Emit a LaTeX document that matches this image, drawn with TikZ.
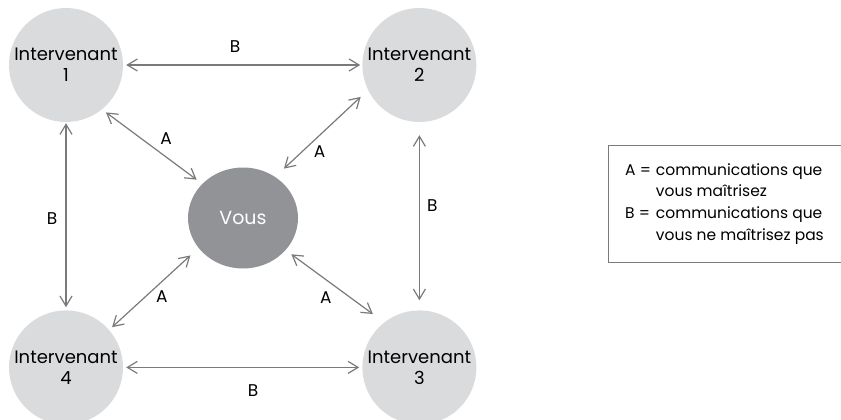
\documentclass[tikz,border=0pt]{standalone}
\usepackage{fontspec}
\setmainfont{Poppins}
\usetikzlibrary{arrows.meta,positioning,shapes}
\definecolor{palegray}{RGB}{218,219,221}
\definecolor{darkgray}{RGB}{146,147,151}
\definecolor{linegray}{RGB}{122,122,125}

\begin{document}
\begin{tikzpicture}[x=1pt,y=-1pt,node distance=188pt]
        \tikzstyle{person}=[circle, fill=palegray, minimum size=114pt, inner sep=0pt, align=center, font=\fontsize{18}{21}\selectfont]
        \tikzstyle{me}=[ellipse, fill=darkgray, minimum width=110pt, minimum height=101pt, inner sep=0pt, text=white, font=\fontsize{19}{21}\selectfont]
        \tikzstyle{link}=[{Straight Barb[length=10pt,width=12pt]}-{Straight Barb[length=10pt,width=12pt]}, draw=linegray, line width=1.2pt]
        \tikzstyle{tag}=[font=\fontsize{17}{21}\selectfont, inner sep=0pt]

        \useasboundingbox (0,0) rectangle (841,420);

        \node[person] (i1) at (66,65) {Intervenant\\1};
        \node[person] (i2) [right=239pt of i1] {Intervenant\\2};
        \node[person] (i4) [below=of i1] {Intervenant\\4};
        \node[person] (i3) [below=of i2] {Intervenant\\3};

        \node[me] (vous) at (243,218) {Vous};

        \node[draw=linegray, line width=1pt, minimum width=233pt, minimum height=117pt, inner sep=0pt, font=\fontsize{15.5}{21.7}\selectfont] (legend) at (724.5,203.5)
            {\begin{tabular}{@{}l@{\hspace{5pt}}l@{}}
             A = & communications que\\
                 & vous maîtrisez\\
             B = & communications que\\
                 & vous ne maîtrisez pas
             \end{tabular}};

        % B : not under control
        \draw[link, shorten <=3pt, shorten >=2pt] (i1) -- node[tag, xshift=-7.5pt, yshift=18pt] {B} (i2);
        \draw[link, shorten <=3pt, shorten >=3pt] (i4) -- node[tag, xshift=10.5pt, yshift=-23pt] {B} (i3);
        \draw[link, shorten <=1pt, shorten >=3pt] (i1) -- node[tag, xshift=-14pt, yshift=-2pt] {B} (i4);
        \draw[link, shorten <=13pt, shorten >=10pt] (i2) -- node[tag, xshift=13pt, yshift=11pt] {B} (i3);

        % A : under control
        \draw[link, shorten <=5pt, shorten >=7pt] (i1.-51) -- node[tag, xshift=14pt, yshift=8pt] {A} (vous.140);
        \draw[link, shorten <=12pt, shorten >=10pt] (vous.52.6) -- node[tag, xshift=-2pt, yshift=-18pt] {A} (i2.206.6);
        \draw[link, shorten <=4pt, shorten >=11pt] (i4.41) -- node[tag, xshift=8pt, yshift=-8pt] {A} (vous.214);
        \draw[link, shorten <=7pt, shorten >=14pt] (vous.-37) -- node[tag, xshift=-9pt, yshift=-11pt] {A} (i3.128);

\end{tikzpicture}
\end{document}
